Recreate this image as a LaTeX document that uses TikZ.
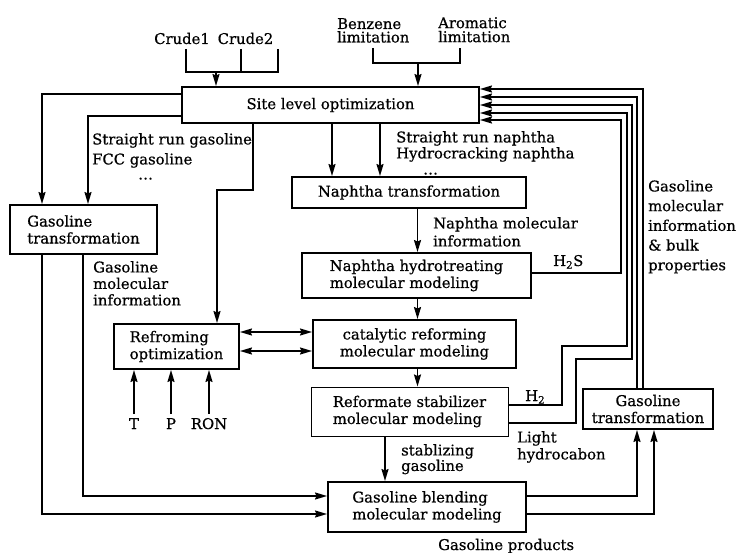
\documentclass[tikz,border=0pt]{standalone}
\usepackage{fontspec}
\setmainfont{DejaVu Serif}[FakeBold=0.6]
\usetikzlibrary{arrows.meta}
\begin{document}
\begin{tikzpicture}[x=1pt,y=-1pt,
  font=\fontsize{14.8}{17}\selectfont,
  box/.style={draw, line width=1.9pt, inner sep=0pt},
  ln/.style={line width=1.8pt},
  arr/.style={line width=1.8pt, -{Stealth[length=12pt,width=7pt,inset=1.5pt]}},
  darr/.style={line width=1.8pt, {Stealth[length=12pt,width=7pt,inset=1.5pt]}-{Stealth[length=12pt,width=7pt,inset=1.5pt]}},
  lbl/.style={inner sep=0pt, align=left, anchor=north west},
  sl/.style={inner sep=0pt, anchor=base west},
]
\useasboundingbox[fill=white] (0,0) rectangle (739,553);

% boxes
\node[box, minimum width=297pt, minimum height=36pt] (site) at (330.5,105) {Site level optimization};
\node[box, minimum width=147pt, minimum height=49pt, align=left] (gtL) at (83.5,229.5) {Gasoline\\transformation};
\node[box, minimum width=234pt, minimum height=31pt] (ntr) at (409,192.5) {Naphtha transformation};
\node[box, minimum width=229pt, minimum height=45pt, align=left] (nht) at (416.5,275.5) {Naphtha hydrotreating\\molecular modeling};
\node[box, minimum width=125pt, minimum height=45pt, align=left] (ref) at (176.5,346.5) {Refroming\\optimization};
\node[box, minimum width=203pt, minimum height=48pt, align=center] (cat) at (414.5,344) {catalytic reforming\\molecular modeling};
\node[box, line width=1pt, minimum width=197pt, minimum height=49pt, align=left] (stab) at (409.5,411.5) {Reformate stabilizer\\molecular modeling};
\node[box, minimum width=198pt, minimum height=50pt, align=left] (blend) at (427,507) {Gasoline blending\\molecular modeling};
\node[box, minimum width=130pt, minimum height=40pt, align=center] (gtR) at (648,409) {Gasoline\\transformation};

% top inputs
\node[sl, anchor=base] (crude1) at (182,44) {Crude1};
\node[sl, anchor=base] (crude2) at (245.5,44) {Crude2};
\node[lbl, font=\fontsize{14.8}{13.5}\selectfont] (benz) at (337,18) {Benzene\\limitation};
\node[lbl, font=\fontsize{14.8}{14}\selectfont] (arom) at (438,17) {Aromatic\\limitation};

\coordinate (cr1) at (186,49);
\coordinate (cr2) at (241,49);
\coordinate (cr3) at (278,49);
\coordinate (crj) at (216,72);
\draw[ln] (cr1) -- (cr1 |- crj) -- (cr3 |- crj) -- (cr3);
\draw[ln] (cr2) -- (cr2 |- crj);
\draw[arr] (crj) -- (crj |- site.north);

\coordinate (bz1) at (373,48);
\coordinate (bz2) at (460,48);
\coordinate (bzj) at (418,63);
\draw[ln] (bz1) -- (bz1 |- bzj) -- (bz2 |- bzj) -- (bz2);
\draw[arr] (bzj) -- (bzj |- site.north);

% site -> left gasoline transformation
\coordinate (s1) at (42,94);
\coordinate (s2) at (88,116);
\draw[arr] (s1 -| site.west) -- (s1) -- (s1 |- gtL.north);
\draw[arr] (s2 -| site.west) -- (s2) -- (s2 |- gtL.north);

% site -> refroming
\coordinate (b1) at (253,190);
\coordinate (b2) at (217,190);
\draw[arr] (b1 |- site.south) -- (b1) -- (b2) -- (b2 |- ref.north);

% site -> naphtha transformation
\coordinate (n1) at (332,150);
\coordinate (n2) at (380,150);
\draw[arr] (n1 |- site.south) -- (n1 |- ntr.north);
\draw[arr] (n2 |- site.south) -- (n2 |- ntr.north);

% main chain
\coordinate (v1) at (417.5,0);
\coordinate (v2) at (385,0);
\draw[arr] (v1 |- ntr.south) -- (v1 |- nht.north);
\draw[arr] (v1 |- nht.south) -- (v1 |- cat.north);
\draw[arr] (v1 |- cat.south) -- (v1 |- stab.north);
\draw[arr] (v2 |- stab.south) -- (v2 |- blend.north);

% refroming <-> catalytic
\coordinate (d1) at (0,332);
\coordinate (d2) at (0,351);
\draw[darr] (d1 -| ref.east) -- (d1 -| cat.west);
\draw[darr] (d2 -| ref.east) -- (d2 -| cat.west);

% T P RON
\node[sl, anchor=base] (T) at (134,429) {T};
\node[sl, anchor=base] (P) at (171,429) {P};
\node[sl, anchor=base] (RON) at (209,429) {RON};
\draw[arr] ([yshift=4pt]T.north) -- (T.north |- ref.south);
\draw[arr] ([yshift=4pt]P.north) -- (P.north |- ref.south);
\draw[arr] ([yshift=4pt]RON.north) -- (RON.north |- ref.south);

% left gasoline transformation -> blending
\coordinate (l1) at (83,496);
\coordinate (l2) at (42,514);
\draw[arr] (l1 |- gtL.south) -- (l1) -- (l1 -| blend.west);
\draw[arr] (l2 |- gtL.south) -- (l2) -- (l2 -| blend.west);

% blending -> right gasoline transformation
\coordinate (g1) at (637,496);
\coordinate (g2) at (654,514);
\draw[arr] (g1 -| blend.east) -- (g1) -- (g1 |- gtR.south);
\draw[arr] (g2 -| blend.east) -- (g2) -- (g2 |- gtR.south);

% feedback to site
\coordinate (f1) at (621,120);
\coordinate (f2) at (627,113);
\coordinate (f3) at (632,105);
\coordinate (f4) at (637,97);
\coordinate (f5) at (643,89);
\coordinate (hs) at (0,273);
\draw[arr] (hs -| nht.east) -- (hs -| f1) -- (f1) -- (f1 -| site.east);
\coordinate (h2a) at (562,405);
\coordinate (h2b) at (562,346);
\draw[arr] (h2a -| stab.east) -- (h2a) -- (h2b) -- (h2b -| f2) -- (f2) -- (f2 -| site.east);
\coordinate (lha) at (576,423);
\coordinate (lhb) at (576,359);
\draw[arr] (lha -| stab.east) -- (lha) -- (lhb) -- (lhb -| f3) -- (f3) -- (f3 -| site.east);
\draw[arr] (f4 |- gtR.north) -- (f4) -- (f4 -| site.east);
\draw[arr] (f5 |- gtR.north) -- (f5) -- (f5 -| site.east);

% labels
\node[lbl, font=\fontsize{14.8}{20}\selectfont] (srg) at (92,133) {Straight run gasoline\\FCC gasoline\\[-5pt]\hspace*{46pt}\ldots};
\node[lbl, font=\fontsize{14.8}{16}\selectfont] (srn) at (396,131) {Straight run naphtha\\Hydrocracking naphtha\\\hspace*{27pt}\ldots};
\node[lbl, font=\fontsize{14.8}{18}\selectfont] (nmi) at (433,217) {Naphtha molecular\\information};
\node[lbl, font=\fontsize{14.8}{16.5}\selectfont] (gmi) at (93,261) {Gasoline\\molecular\\information};
\node[lbl, font=\fontsize{14.8}{19.7}\selectfont] (gmb) at (648,180) {Gasoline\\molecular\\information\\\& bulk\\properties};
\node[sl] (h2s) at (553,266) {H\textsubscript{2}S};
\node[sl] (h2) at (525,401) {H\textsubscript{2}};
\node[lbl, font=\fontsize{14.8}{17}\selectfont] (lhc) at (517,431) {Light\\hydrocabon};
\node[lbl, font=\fontsize{14.8}{15.5}\selectfont] (stg) at (401,444) {stablizing\\gasoline};
\node[sl] (gp) at (438,550) {Gasoline products};
\end{tikzpicture}
\end{document}
